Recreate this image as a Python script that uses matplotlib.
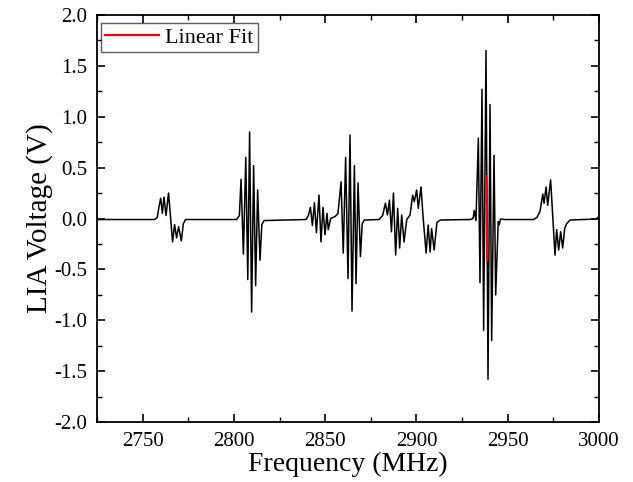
import numpy as np
import matplotlib
matplotlib.use('Agg')
import matplotlib.pyplot as plt
from matplotlib.ticker import MultipleLocator

plt.rcParams['font.family'] = ['Liberation Serif', 'DejaVu Serif']

# extrema, cluster by cluster (MHz, V)
freq_c1 = [2725.0, 2756.5, 2758.0, 2759.0, 2759.9, 2760.8, 2761.7, 2762.8, 2764.2,
           2766.4, 2767.5, 2768.6, 2769.7, 2771.2, 2772.3, 2773.5]
volt_c1 = [-0.01, -0.01, 0.01, 0.12, 0.20, 0.05, 0.21, 0.03, 0.25,
           -0.23, -0.06, -0.19, -0.08, -0.22, -0.05, -0.01]

freq_c2 = [2801.5, 2803.0, 2803.9, 2805.2, 2806.5, 2807.6, 2808.6, 2809.7, 2810.8,
           2811.9, 2813.0, 2814.3, 2815.3, 2816.5]
volt_c2 = [-0.01, 0.03, 0.385, -0.35, 0.60, -0.60, 0.85, -0.92, 0.52,
           -0.66, 0.28, -0.41, -0.06, -0.02]

freq_c3 = [2839.5, 2840.8, 2841.9, 2843.0, 2844.1, 2845.2, 2846.6, 2847.7, 2848.8,
           2849.9, 2851.0, 2851.7, 2853.0, 2855.5, 2857.0, 2858.7, 2859.9, 2861.2,
           2862.5, 2863.6, 2864.7, 2866.0, 2866.9, 2868.0, 2869.3, 2870.3, 2871.5]
volt_c3 = [-0.01, 0.03, 0.11, -0.07, 0.155, -0.14, 0.23, -0.23, 0.11,
           -0.16, 0.05, -0.11, 0.0, 0.02, 0.05, 0.36, -0.34, 0.60,
           -0.59, 0.82, -0.91, 0.52, -0.64, 0.35, -0.375, -0.05, -0.015]

freq_c4 = [2879.5, 2881.5, 2883.0, 2884.1, 2885.2, 2886.3, 2887.4, 2888.6, 2889.7,
           2890.8, 2891.9, 2893.2, 2894.7, 2896.5, 2897.9, 2898.8, 2900.1, 2901.0,
           2902.5, 2903.6, 2905.3, 2906.4, 2907.5, 2908.3, 2909.7, 2911.2, 2913.0]
volt_c4 = [-0.01, 0.03, 0.15, 0.035, 0.18, -0.13, 0.25, -0.36, 0.10,
           -0.29, 0.035, -0.23, -0.01, 0.035, 0.23, 0.165, 0.28, 0.10,
           0.31, 0.02, -0.34, -0.065, -0.33, -0.10, -0.31, -0.04, -0.015]

freq_c5 = [2929.5, 2931.0, 2931.7, 2932.6, 2933.9, 2934.8, 2935.9, 2936.8, 2938.1,
           2939.2, 2940.3, 2941.2, 2942.5, 2943.4, 2944.8, 2945.4, 2946.0, 2948.0]
volt_c5 = [-0.01, 0.0, 0.08, -0.02, 0.79, -0.63, 1.27, -1.10, 1.65,
           -1.58, 1.12, -1.20, 0.62, -0.75, -0.03, -0.06, -0.005, -0.01]

freq_c6 = [2964.0, 2966.0, 2967.7, 2969.2, 2969.9, 2971.0, 2971.9, 2973.5, 2975.9,
           2976.8, 2977.9, 2979.0, 2980.1, 2981.2, 2982.3, 2984.2, 2998.5, 2999.2, 3000.0]
volt_c6 = [-0.01, 0.01, 0.07, 0.24, 0.15, 0.31, 0.13, 0.38, -0.36,
           -0.11, -0.31, -0.13, -0.29, -0.10, -0.05, -0.015, -0.005, 0.01, 0.0]

fit_freq = [2938.35, 2938.7]
fit_volt = [0.42, -0.41]

freq = np.concatenate([freq_c1, freq_c2, freq_c3, freq_c4, freq_c5, freq_c6])
volt = np.concatenate([volt_c1, volt_c2, volt_c3, volt_c4, volt_c5, volt_c6])

fig = plt.figure(figsize=(6.33, 4.82), dpi=100)
ax = fig.add_axes([97 / 633, 1 - 422 / 482, 502 / 633, 407 / 482])

ax.plot(freq, volt, color='k', lw=1.1)
ax.plot(fit_freq, fit_volt, color='red', lw=1.6, label='Linear Fit')

ax.set_xlim(2725, 3000)
ax.set_ylim(-2.0, 2.0)
ax.xaxis.set_major_locator(MultipleLocator(50))
ax.xaxis.set_minor_locator(MultipleLocator(25))
ax.yaxis.set_major_locator(MultipleLocator(0.5))
ax.yaxis.set_minor_locator(MultipleLocator(0.25))
ax.yaxis.set_major_formatter(lambda v, p: '{:.1f}'.format(v))
ax.tick_params(which='both', direction='in', top=True, right=True, labelsize=15)
ax.tick_params(which='major', length=6, width=1.2, pad=7)
ax.tick_params(which='minor', length=3.5, width=1.0)
for s in ax.spines.values():
    s.set_linewidth(1.3)

ax.set_xlabel('Frequency (MHz)', fontsize=20, labelpad=1)
ax.set_ylabel('LIA Voltage (V)', fontsize=21, labelpad=1)

leg = ax.legend(loc='upper left', bbox_to_anchor=(4 / 502, 1 - 8 / 407),
                borderaxespad=0, fontsize=16, frameon=True, fancybox=False,
                handlelength=2.4, borderpad=0.2, handletextpad=0.27)
leg.get_frame().set_edgecolor('#333333')
leg.get_frame().set_linewidth(1.0)

fig.savefig('out.png', dpi=100)
